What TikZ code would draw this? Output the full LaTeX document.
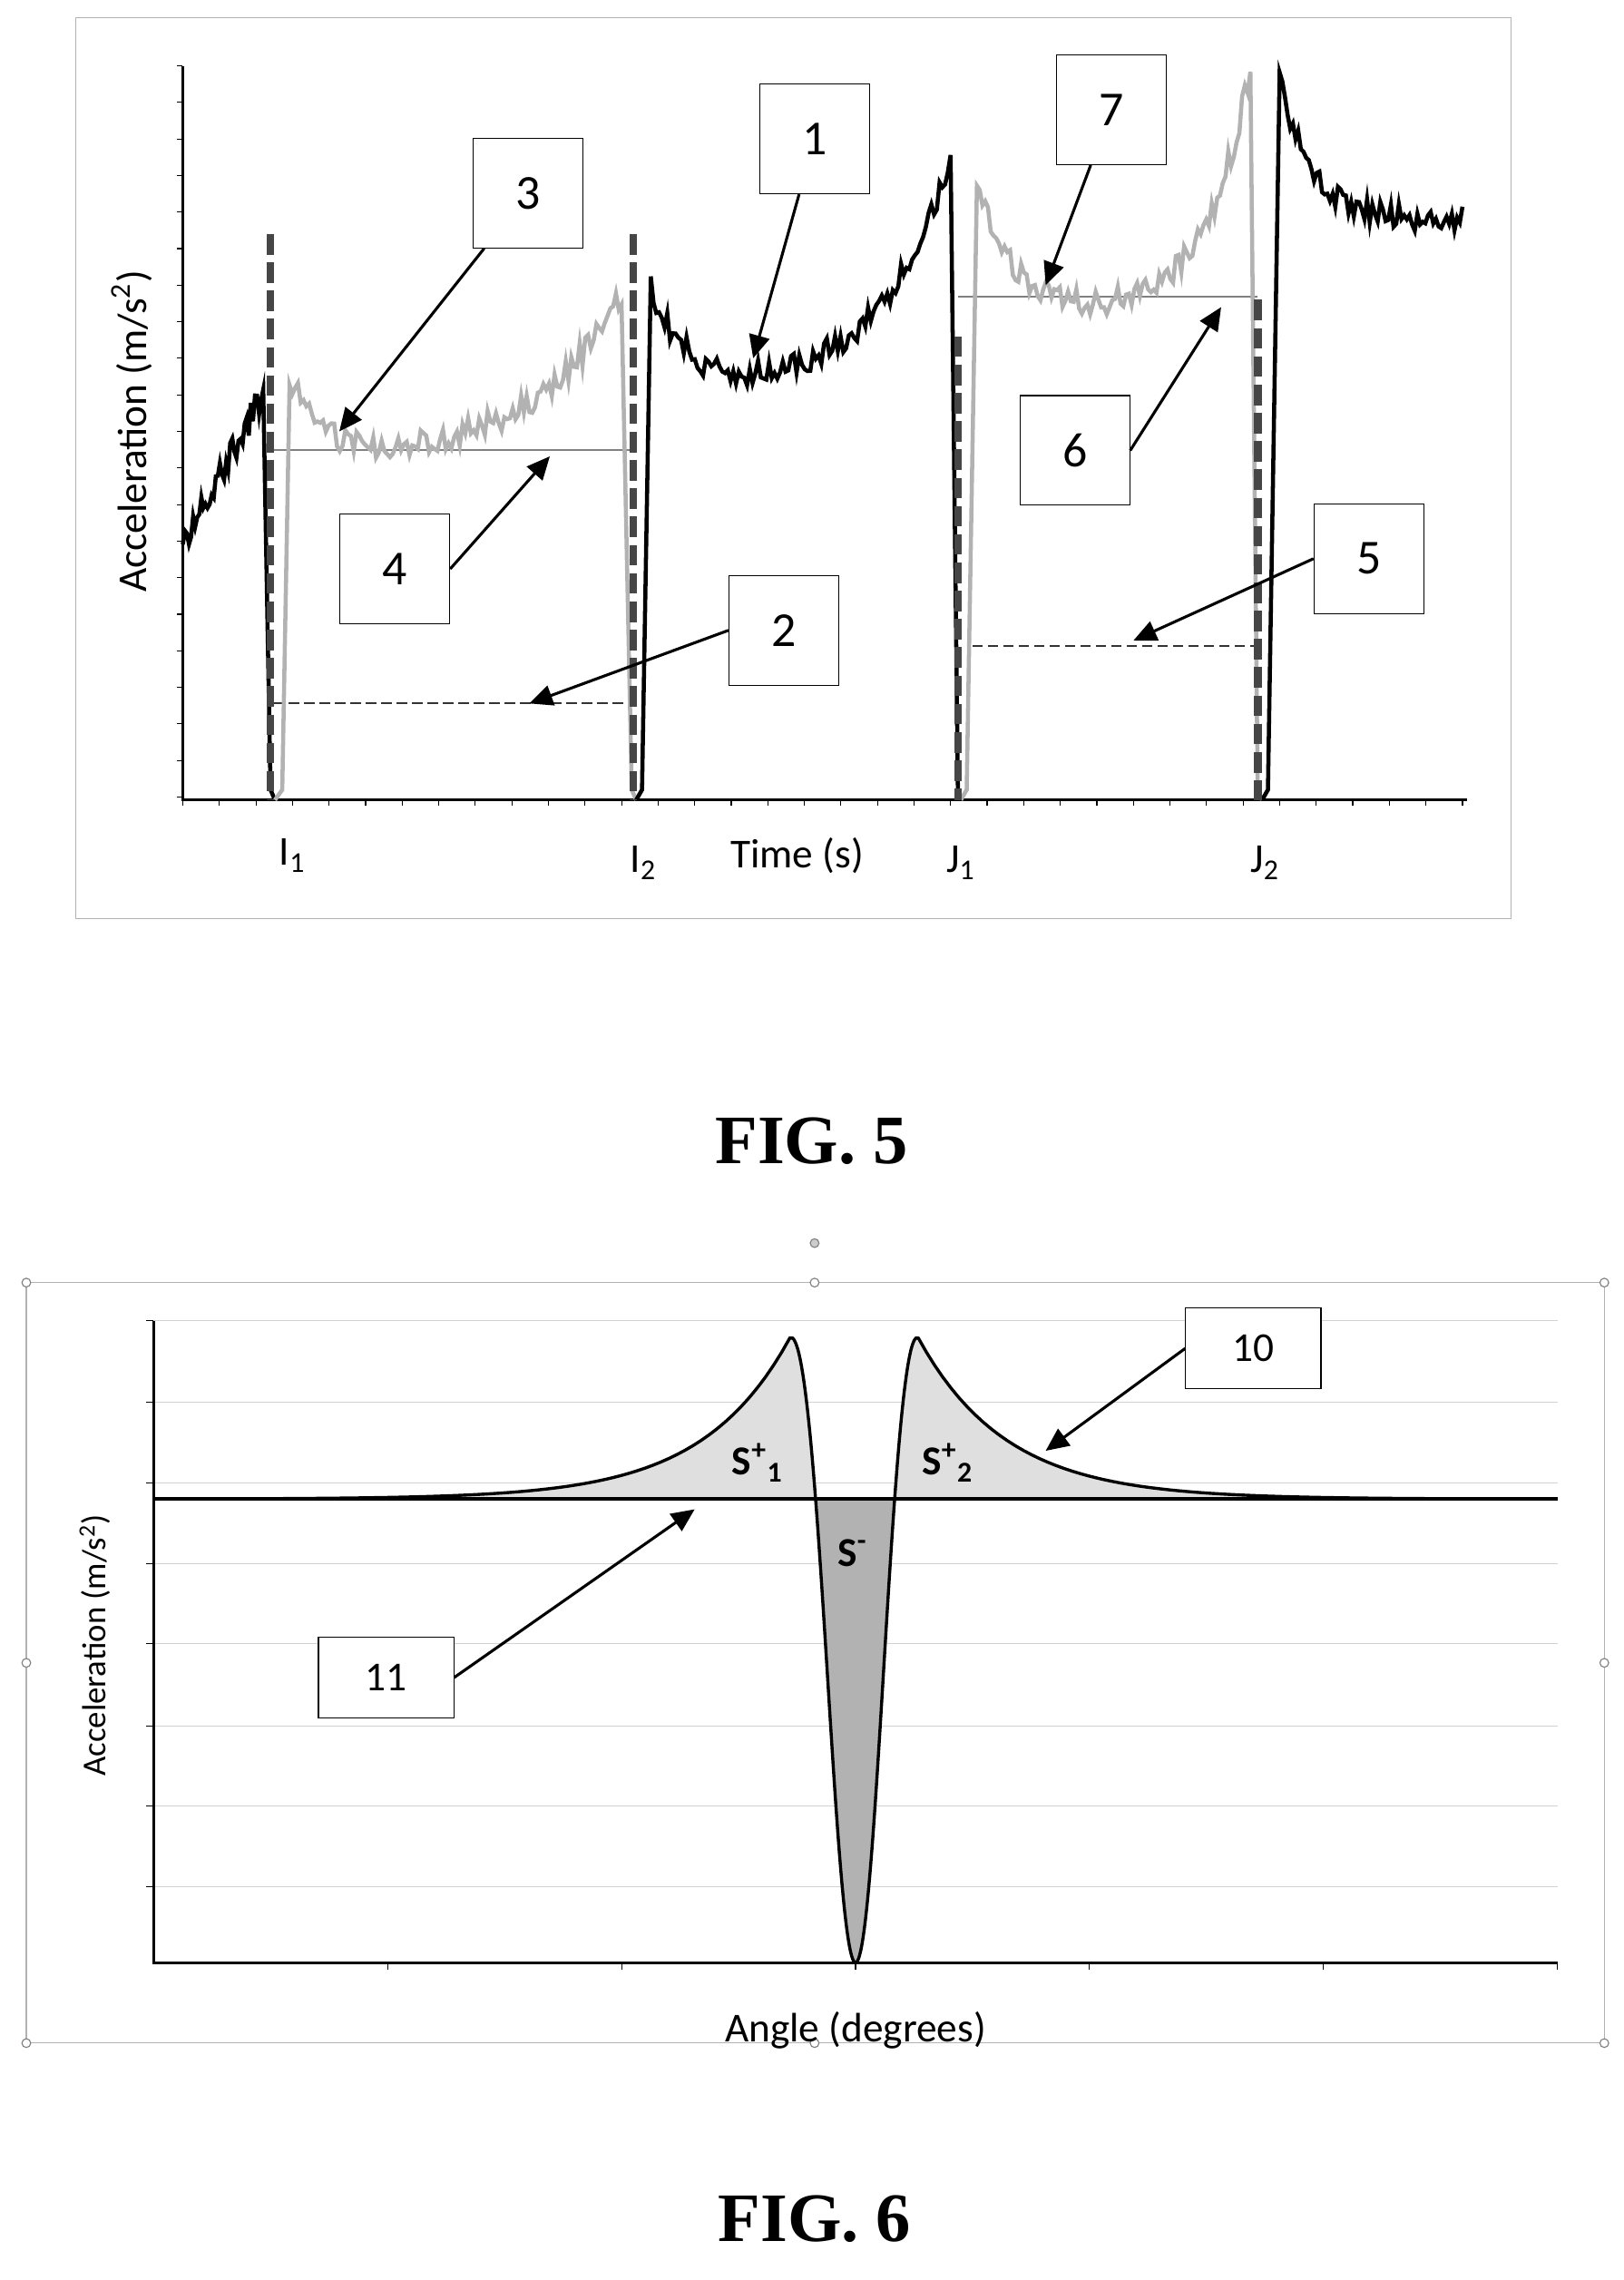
\documentclass[tikz,border=0pt]{standalone}
\usepackage{fontspec}
\setmainfont{Carlito}
\newfontfamily\figfont{Liberation Serif}
\usetikzlibrary{arrows.meta,positioning}
\tikzset{
  callout/.style={draw,fill=white,minimum width=1.5cm,minimum height=1.5cm,font=\fontsize{19}{19}\selectfont},
  pointer/.style={-{Triangle[length=9pt,width=8pt]},line width=1.1pt},
  sig/.style={line width=1.6pt},
  graysig/.style={line width=1.6pt,gray!60},
  cutline/.style={gray!55!black,line width=3pt,dash pattern=on 8pt off 3pt},
  lvl/.style={gray,line width=0.7pt},
  dlvl/.style={gray!40!black,line width=0.7pt,dash pattern=on 4pt off 2pt},
  lab/.style={font=\fontsize{16}{16}\selectfont},
  figcap/.style={font=\figfont\bfseries\fontsize{27}{27}\selectfont}
}
\begin{document}
\begin{tikzpicture}[x=0.02cm,y=-0.02cm]
\useasboundingbox (0,0) rectangle (1110,1559);
\pgfmathsetseed{7}
% figure 5
\draw[gray!60] (52,12) rectangle (1033,628);
\draw[line width=1pt] (125,45) -- (125,547) -- (1003,547);
\foreach \y in {45,70,...,547} \draw (121,\y) -- (125,\y);
\foreach \x in {125,150,...,1003} \draw (\x,547) -- (\x,551);
\draw[lvl] (187,308) -- (433,308);
\draw[dlvl] (187,481) -- (433,481);
\draw[lvl] (655,203) -- (860,203);
\draw[dlvl] (665,442) -- (860,442);
\draw[sig] plot[domain=125:180,samples=40] (\x,{370-100*(\x-125)/55+10*rand}) -- (185,540) -- (188,547);
\draw[graysig] (188,547) -- (193,540) -- plot[domain=198:425,samples=120] (\x,{315-57*exp(-(\x-198)/20)-115*exp((\x-425)/60)+9*rand}) -- (432,540) -- (435,547);
\draw[sig] (435,547) -- (439,540) -- plot[domain=445:650,samples=110] (\x,{270-70*exp(-(\x-445)/25)-160*exp((\x-650)/50)+9*rand}) -- (655,540) -- (657,547);
\draw[graysig] (657,547) -- (661,540) -- plot[domain=668:855,samples=100] (\x,{215-90*exp(-(\x-668)/25)-170*exp((\x-855)/30)+9*rand}) -- (860,540) -- (863,547);
\draw[sig] (863,547) -- (867,540) -- plot[domain=875:1000,samples=70] (\x,{150-100*exp(-(\x-875)/20)+9*rand});
\foreach \x/\t in {185/160,433/160,655/230,860/205} \draw[cutline] (\x,\t) -- (\x,547);
\node[callout] (n3) at (361,132) {3};
\node[callout] (n1) at (557,95) {1};
\node[callout] (n7) at (760,75) {7};
\node[callout] (n6) at (735,308) {6};
\node[callout] (n5) at (936,382) {5};
\node[callout] (n2) at (536,431) {2};
\node[callout] (n4) at (270,389) {4};
\coordinate (p3) at (232,295);
\coordinate (p1) at (515,245);
\coordinate (p7) at (715,195);
\coordinate (p6) at (835,210);
\coordinate (p5) at (775,438);
\coordinate (p2) at (362,481);
\coordinate (p4) at (376,312);
\draw[pointer] (n3) -- (p3);
\draw[pointer] (n1) -- (p1);
\draw[pointer] (n7) -- (p7);
\draw[pointer] (n6.east) -- (p6);
\draw[pointer] (n5.west) -- (p5);
\draw[pointer] (n2.west) -- (p2);
\draw[pointer] (n4.east) -- (p4);
\node[lab] (i1) at (200,585) {I\textsubscript{1}};
\node[lab] (i2) at (440,590) {I\textsubscript{2}};
\node[lab] (time) at (545,585) {Time (s)};
\node[lab] (j1) at (657,590) {J\textsubscript{1}};
\node[lab] (j2) at (865,590) {J\textsubscript{2}};
\node[lab,rotate=90] (ya) at (90,295) {Acceleration (m/s\textsuperscript{2})};
\node[figcap] (f5) at (555,780) {FIG. 5};
% figure 6
\draw[gray!60] (18,877) rectangle (1097,1397);
\foreach \p in {(18,877),(557,877),(1097,877),(18,1137),(1097,1137),(18,1397),(557,1397),(1097,1397)} \draw[gray,fill=white] \p circle (3);
\draw[gray,fill=gray!40] (557,850) circle (3);
\foreach \y in {903,959,1014,1069,1124,1180,1235,1290} \draw[gray!35] (105,\y) -- (1065,\y);
\def\curve{plot[domain=105:540,samples=80] (\x,{1025-110*exp((\x-540)/60)}) .. controls (560,900) and (570,1342) .. (585,1342) .. controls (600,1342) and (610,900) .. (628,915) -- plot[domain=628:1065,samples=80] (\x,{1025-110*exp(-(\x-628)/60)})}
\begin{scope}
\clip (105,880) rectangle (1065,1025);
\fill[gray!25] \curve -- (1065,1025) -- (105,1025) -- cycle;
\end{scope}
\begin{scope}
\clip (105,1025) rectangle (1065,1345);
\fill[gray!60] \curve -- (1065,1025) -- (105,1025) -- cycle;
\end{scope}
\draw[line width=1.4pt] (105,1025) -- (1065,1025);
\draw[line width=1.2pt] \curve;
\draw[line width=1pt] (105,903) -- (105,1342) -- (1065,1342);
\foreach \y in {903,959,1014,1069,1124,1180,1235,1290} \draw (100,\y) -- (105,\y);
\foreach \x in {265,425,585,745,905,1065} \draw (\x,1342) -- (\x,1347);
\node[lab,font=\bfseries\fontsize{16}{16}\selectfont] (s1) at (518,1000) {S\textsuperscript{+}\textsubscript{1}};
\node[lab,font=\bfseries\fontsize{16}{16}\selectfont] (s2) at (648,1000) {S\textsuperscript{+}\textsubscript{2}};
\node[lab,font=\bfseries\fontsize{16}{16}\selectfont] (sm) at (583,1062) {S\textsuperscript{-}};
\node[callout,minimum width=1.85cm,minimum height=1.1cm,font=\fontsize{16}{16}\selectfont] (n10) at (857,922) {10};
\node[callout,minimum width=1.85cm,minimum height=1.1cm,font=\fontsize{16}{16}\selectfont] (n11) at (264,1147) {11};
\coordinate (p10) at (715,992);
\coordinate (p11) at (475,1032);
\draw[pointer] (n10.west) -- (p10);
\draw[pointer] (n11.east) -- (p11);
\node[lab,rotate=90,font=\fontsize{13}{13}\selectfont] (yb) at (65,1125) {Acceleration (m/s\textsuperscript{2})};
\node[lab] (ang) at (585,1388) {Angle (degrees)};
\node[figcap] (f6) at (557,1517) {FIG. 6};
\end{tikzpicture}
\end{document}
